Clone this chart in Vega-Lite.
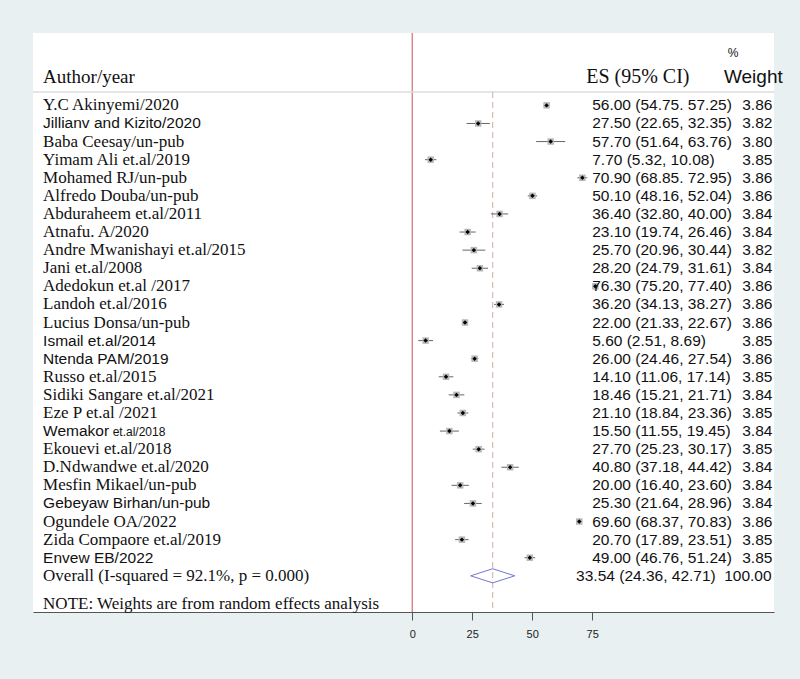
{
  "$schema": "https://vega.github.io/schema/vega-lite/v6.json",
  "width": 741,
  "height": 579,
  "autosize": {"type": "none"},
  "padding": {"left": 33, "top": 33, "right": 26, "bottom": 67},
  "background": "#e8f0f1",
  "config": {"view": {"stroke": null, "fill": "#ffffff"}, "axis": {"titleColor": "transparent"}},
  "datasets": {
    "studies": [
      {"row": 0, "study": "Y.C Akinyemi/2020", "es": 56.00, "lo": 54.75, "hi": 57.25, "ci": "56.00 (54.75. 57.25)", "w": 3.86},
      {"row": 1, "study": "Jillianv and Kizito/2020", "es": 27.50, "lo": 22.65, "hi": 32.35, "ci": "27.50 (22.65, 32.35)", "w": 3.82},
      {"row": 2, "study": "Baba Ceesay/un-pub", "es": 57.70, "lo": 51.64, "hi": 63.76, "ci": "57.70 (51.64, 63.76)", "w": 3.80},
      {"row": 3, "study": "Yimam Ali et.al/2019", "es": 7.70, "lo": 5.32, "hi": 10.08, "ci": "7.70 (5.32, 10.08)", "w": 3.85},
      {"row": 4, "study": "Mohamed RJ/un-pub", "es": 70.90, "lo": 68.85, "hi": 72.95, "ci": "70.90 (68.85. 72.95)", "w": 3.86},
      {"row": 5, "study": "Alfredo Douba/un-pub", "es": 50.10, "lo": 48.16, "hi": 52.04, "ci": "50.10 (48.16, 52.04)", "w": 3.86},
      {"row": 6, "study": "Abduraheem et.al/2011", "es": 36.40, "lo": 32.80, "hi": 40.00, "ci": "36.40 (32.80, 40.00)", "w": 3.84},
      {"row": 7, "study": "Atnafu. A/2020", "es": 23.10, "lo": 19.74, "hi": 26.46, "ci": "23.10 (19.74, 26.46)", "w": 3.84},
      {"row": 8, "study": "Andre Mwanishayi et.al/2015", "es": 25.70, "lo": 20.96, "hi": 30.44, "ci": "25.70 (20.96, 30.44)", "w": 3.82},
      {"row": 9, "study": "Jani et.al/2008", "es": 28.20, "lo": 24.79, "hi": 31.61, "ci": "28.20 (24.79, 31.61)", "w": 3.84},
      {"row": 10, "study": "Adedokun et.al /2017", "es": 76.30, "lo": 75.20, "hi": 77.40, "ci": "76.30 (75.20, 77.40)", "w": 3.86},
      {"row": 11, "study": "Landoh et.al/2016", "es": 36.20, "lo": 34.13, "hi": 38.27, "ci": "36.20 (34.13, 38.27)", "w": 3.86},
      {"row": 12, "study": "Lucius Donsa/un-pub", "es": 22.00, "lo": 21.33, "hi": 22.67, "ci": "22.00 (21.33, 22.67)", "w": 3.86},
      {"row": 13, "study": "Ismail et.al/2014", "es": 5.60, "lo": 2.51, "hi": 8.69, "ci": "5.60 (2.51, 8.69)", "w": 3.85},
      {"row": 14, "study": "Ntenda PAM/2019", "es": 26.00, "lo": 24.46, "hi": 27.54, "ci": "26.00 (24.46, 27.54)", "w": 3.86},
      {"row": 15, "study": "Russo et.al/2015", "es": 14.10, "lo": 11.06, "hi": 17.14, "ci": "14.10 (11.06, 17.14)", "w": 3.85},
      {"row": 16, "study": "Sidiki Sangare et.al/2021", "es": 18.46, "lo": 15.21, "hi": 21.71, "ci": "18.46 (15.21, 21.71)", "w": 3.84},
      {"row": 17, "study": "Eze P et.al /2021", "es": 21.10, "lo": 18.84, "hi": 23.36, "ci": "21.10 (18.84, 23.36)", "w": 3.85},
      {"row": 18, "study": "Wemakor et.al/2018", "es": 15.50, "lo": 11.55, "hi": 19.45, "ci": "15.50 (11.55, 19.45)", "w": 3.84},
      {"row": 19, "study": "Ekouevi et.al/2018", "es": 27.70, "lo": 25.23, "hi": 30.17, "ci": "27.70 (25.23, 30.17)", "w": 3.85},
      {"row": 20, "study": "D.Ndwandwe et.al/2020", "es": 40.80, "lo": 37.18, "hi": 44.42, "ci": "40.80 (37.18, 44.42)", "w": 3.84},
      {"row": 21, "study": "Mesfin Mikael/un-pub", "es": 20.00, "lo": 16.40, "hi": 23.60, "ci": "20.00 (16.40, 23.60)", "w": 3.84},
      {"row": 22, "study": "Gebeyaw Birhan/un-pub", "es": 25.30, "lo": 21.64, "hi": 28.96, "ci": "25.30 (21.64, 28.96)", "w": 3.84},
      {"row": 23, "study": "Ogundele OA/2022", "es": 69.60, "lo": 68.37, "hi": 70.83, "ci": "69.60 (68.37, 70.83)", "w": 3.86},
      {"row": 24, "study": "Zida Compaore et.al/2019", "es": 20.70, "lo": 17.89, "hi": 23.51, "ci": "20.70 (17.89, 23.51)", "w": 3.85},
      {"row": 25, "study": "Envew EB/2022", "es": 49.00, "lo": 46.76, "hi": 51.24, "ci": "49.00 (46.76, 51.24)", "w": 3.85}
    ],
    "overall": [
      {"row": 26, "study": "Overall (I-squared = 92.1%, p = 0.000)", "es": 33.54, "lo": 24.36, "hi": 42.71, "ci": "33.54 (24.36, 42.71)", "w": 100.00}
    ],
    "diamond": [
      {"k": 0, "x": 24.36, "y": 26},
      {"k": 1, "x": 33.54, "y": 25.61},
      {"k": 2, "x": 42.71, "y": 26},
      {"k": 3, "x": 33.54, "y": 26.39},
      {"k": 4, "x": 24.36, "y": 26}
    ]
  },
  "data": {"name": "studies"},
  "layer": [
    {
      "data": {"values": [{}]},
      "mark": {"type": "rule", "color": "#c85050", "strokeWidth": 1},
      "encoding": {
        "x": {"datum": 0, "type": "quantitative",
          "scale": {"domain": [-158, 150.75], "nice": false, "zero": false},
          "axis": {"values": [0, 25, 50, 75], "grid": false, "domainColor": "#555555", "domainWidth": 1, "tickColor": "#555555", "tickSize": 8, "labelFont": "Liberation Sans", "labelFontSize": 11, "labelColor": "#222222", "labelPadding": 8, "labelFlush": false}},
        "y": {"datum": -4, "type": "quantitative",
          "scale": {"domain": [-4, 28], "reverse": true, "nice": false, "zero": false}, "axis": null},
        "y2": {"datum": 28}
      }
    },
    {
      "data": {"values": [{}]},
      "mark": {"type": "rule", "color": "#dddddd", "strokeWidth": 1.5},
      "encoding": {
        "x": {"datum": -158, "type": "quantitative"},
        "x2": {"datum": 150.75},
        "y": {"datum": -0.74, "type": "quantitative"}
      }
    },
    {
      "data": {"name": "overall"},
      "mark": {"type": "rule", "color": "#d8a8a8", "strokeWidth": 1, "strokeDash": [6, 4]},
      "encoding": {
        "x": {"field": "es", "type": "quantitative"},
        "y": {"datum": -0.74, "type": "quantitative"},
        "y2": {"datum": 28}
      }
    },
    {
      "mark": {"type": "rule", "color": "#666666", "strokeWidth": 1},
      "encoding": {
        "x": {"field": "lo", "type": "quantitative"},
        "x2": {"field": "hi"},
        "y": {"field": "row", "type": "quantitative"}
      }
    },
    {
      "mark": {"type": "point", "shape": "square", "filled": true, "size": 42, "color": "#b8b8b8", "opacity": 1},
      "encoding": {
        "x": {"field": "es", "type": "quantitative"},
        "y": {"field": "row", "type": "quantitative"}
      }
    },
    {
      "mark": {"type": "point", "shape": "diamond", "filled": true, "size": 20, "color": "#000000", "opacity": 1},
      "encoding": {
        "x": {"field": "es", "type": "quantitative"},
        "y": {"field": "row", "type": "quantitative"}
      }
    },
    {
      "data": {"name": "diamond"},
      "mark": {"type": "line", "color": "#7575d6", "strokeWidth": 1},
      "encoding": {
        "x": {"field": "x", "type": "quantitative"},
        "y": {"field": "y", "type": "quantitative"},
        "order": {"field": "k"}
      }
    },
    {
      "transform": [{"filter": {"not": {"field": "study", "oneOf": ["Jillianv and Kizito/2020", "Ismail et.al/2014", "Ntenda PAM/2019", "Wemakor et.al/2018", "Gebeyaw Birhan/un-pub", "Envew EB/2022"]}}}],
      "mark": {"type": "text", "align": "left", "baseline": "middle", "font": "Liberation Serif", "fontSize": 17, "color": "#111111"},
      "encoding": {
        "x": {"datum": -153.8, "type": "quantitative"},
        "y": {"field": "row", "type": "quantitative"},
        "text": {"field": "study"}
      }
    },
    {
      "transform": [{"filter": {"field": "study", "oneOf": ["Jillianv and Kizito/2020", "Ismail et.al/2014", "Ntenda PAM/2019", "Gebeyaw Birhan/un-pub", "Envew EB/2022"]}}],
      "mark": {"type": "text", "align": "left", "baseline": "middle", "font": "Liberation Sans", "fontSize": 15.5, "color": "#111111"},
      "encoding": {
        "x": {"datum": -153.8, "type": "quantitative"},
        "y": {"field": "row", "type": "quantitative"},
        "text": {"field": "study"}
      }
    },
    {
      "transform": [{"filter": {"field": "study", "equal": "Wemakor et.al/2018"}}],
      "mark": {"type": "text", "text": "Wemakor", "align": "left", "baseline": "middle", "font": "Liberation Sans", "fontSize": 15.5, "color": "#111111"},
      "encoding": {
        "x": {"datum": -153.8, "type": "quantitative"},
        "y": {"field": "row", "type": "quantitative"}
      }
    },
    {
      "transform": [{"filter": {"field": "study", "equal": "Wemakor et.al/2018"}}],
      "mark": {"type": "text", "text": "et.al/2018", "align": "left", "baseline": "middle", "dy": 1, "font": "Liberation Sans", "fontSize": 12, "color": "#111111"},
      "encoding": {
        "x": {"datum": -124.8, "type": "quantitative"},
        "y": {"field": "row", "type": "quantitative"}
      }
    },
    {
      "mark": {"type": "text", "align": "left", "baseline": "middle", "font": "Liberation Sans", "fontSize": 15.5, "color": "#111111"},
      "encoding": {
        "x": {"datum": 75, "type": "quantitative"},
        "y": {"field": "row", "type": "quantitative"},
        "text": {"field": "ci"}
      }
    },
    {
      "mark": {"type": "text", "align": "left", "baseline": "middle", "font": "Liberation Sans", "fontSize": 15.5, "color": "#111111"},
      "encoding": {
        "x": {"datum": 137.5, "type": "quantitative"},
        "y": {"field": "row", "type": "quantitative"},
        "text": {"field": "w", "format": ".2f"}
      }
    },
    {
      "data": {"name": "overall"},
      "mark": {"type": "text", "align": "left", "baseline": "middle", "font": "Liberation Serif", "fontSize": 17, "color": "#111111"},
      "encoding": {
        "x": {"datum": -153.8, "type": "quantitative"},
        "y": {"field": "row", "type": "quantitative"},
        "text": {"field": "study"}
      }
    },
    {
      "data": {"name": "overall"},
      "mark": {"type": "text", "align": "left", "baseline": "middle", "font": "Liberation Sans", "fontSize": 15.5, "color": "#111111"},
      "encoding": {
        "x": {"datum": 68.3, "type": "quantitative"},
        "y": {"field": "row", "type": "quantitative"},
        "text": {"field": "ci"}
      }
    },
    {
      "data": {"name": "overall"},
      "mark": {"type": "text", "align": "left", "baseline": "middle", "font": "Liberation Sans", "fontSize": 15.5, "color": "#111111"},
      "encoding": {
        "x": {"datum": 130, "type": "quantitative"},
        "y": {"field": "row", "type": "quantitative"},
        "text": {"field": "w", "format": ".2f"}
      }
    },
    {
      "data": {"values": [{}]},
      "mark": {"type": "text", "text": "Author/year", "align": "left", "baseline": "middle", "font": "Liberation Serif", "fontSize": 19, "color": "#111111"},
      "encoding": {
        "x": {"datum": -153.8, "type": "quantitative"},
        "y": {"datum": -1.57, "type": "quantitative"}
      }
    },
    {
      "data": {"values": [{}]},
      "mark": {"type": "text", "text": "ES (95% CI)", "align": "left", "baseline": "middle", "font": "Liberation Serif", "fontSize": 20, "color": "#111111"},
      "encoding": {
        "x": {"datum": 72.5, "type": "quantitative"},
        "y": {"datum": -1.57, "type": "quantitative"}
      }
    },
    {
      "data": {"values": [{}]},
      "mark": {"type": "text", "text": "Weight", "align": "left", "baseline": "middle", "font": "Liberation Sans", "fontSize": 19, "color": "#111111"},
      "encoding": {
        "x": {"datum": 129.9, "type": "quantitative"},
        "y": {"datum": -1.57, "type": "quantitative"}
      }
    },
    {
      "data": {"values": [{}]},
      "mark": {"type": "text", "text": "%", "align": "left", "baseline": "middle", "font": "Liberation Sans", "fontSize": 12, "color": "#111111"},
      "encoding": {
        "x": {"datum": 131.5, "type": "quantitative"},
        "y": {"datum": -2.9, "type": "quantitative"}
      }
    },
    {
      "data": {"values": [{}]},
      "mark": {"type": "text", "text": "NOTE: Weights are from random effects analysis", "align": "left", "baseline": "alphabetic", "font": "Liberation Serif", "fontSize": 17, "color": "#111111"},
      "encoding": {
        "x": {"datum": -153.8, "type": "quantitative"},
        "y": {"datum": 27.85, "type": "quantitative"}
      }
    }
  ]
}
